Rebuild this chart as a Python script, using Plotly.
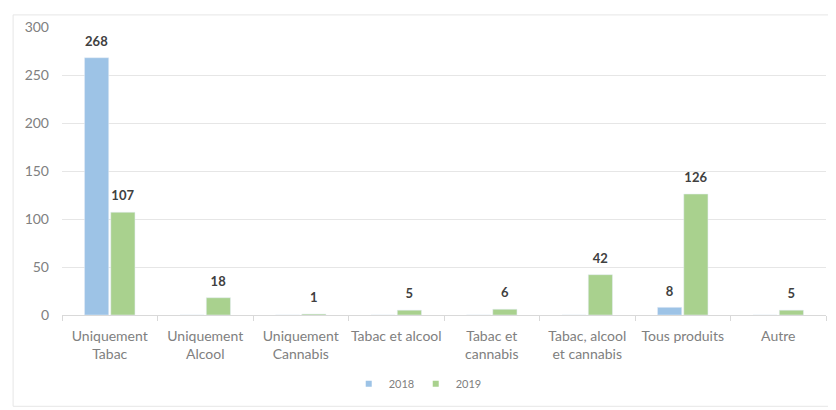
import plotly.graph_objects as go

categories = ["Uniquement<br>Tabac", "Uniquement<br>Alcool", "Uniquement<br>Cannabis",
              "Tabac et alcool", "Tabac et<br>cannabis", "Tabac, alcool<br>et cannabis",
              "Tous produits", "Autre"]
values_2018 = [268, 0, 0, 0, 0, 0, 8, 0]
values_2019 = [107, 18, 1, 5, 6, 42, 126, 5]
y_ticks = [0, 50, 100, 150, 200, 250, 300]
series = [("2018", values_2018, "#9DC3E6"), ("2019", values_2019, "#A9D18E")]

def labels(vals):
    return [str(v) if v else "" for v in vals]

fig = go.Figure()
for name, vals, color in series:
    fig.add_trace(go.Bar(name=name, x=categories, y=vals, text=labels(vals),
                         marker_color=color, textposition="outside", cliponaxis=False,
                         showlegend=False,
                         textfont=dict(color="#404040", size=6, family="Lato")))
for name, vals, color in series:
    fig.add_trace(go.Scatter(name=name, x=[None], y=[None], mode="markers",
                             marker=dict(symbol="square", size=6, color=color),
                             showlegend=True))

fig.update_traces(texttemplate="<span style='font-size:13px'><b>%{text}</b></span><br> ",
                  selector=dict(type="bar"))

fig.update_layout(
    width=828, height=402,
    margin=dict(l=54, r=10, t=14, b=95),
    plot_bgcolor="white", paper_bgcolor="white",
    barmode="group", bargap=0.45, bargroupgap=0.08,
    font=dict(family="Lato", color="#808080", size=13),
    showlegend=True,
    legend=dict(orientation="h", x=0.463, xanchor="center", y=-0.239, yanchor="middle",
                font=dict(size=11, color="#808080"), itemwidth=30, tracegroupgap=0,
                entrywidth=22),
    xaxis=dict(showline=True, linecolor="#D9D9D9", linewidth=1, ticks="outside",
               tickson="boundaries", ticklen=5, tickcolor="#D9D9D9", tickangle=0,
               tickfont=dict(size=14, color="#808080"), ticklabelstandoff=8,
               fixedrange=True),
    yaxis=dict(range=[0, 300], tickvals=y_ticks, showgrid=True, gridcolor="#E6E6E6",
               zeroline=False, showline=False, tickfont=dict(size=14, color="#808080"),
               ticklabelstandoff=12),
    shapes=[dict(type="rect", xref="paper", yref="paper", x0=-0.064, x1=1.009,
                 y0=-0.317, y1=1.042, line=dict(color="#E6E6E6", width=1))],
)

fig.write_html("out.html")
